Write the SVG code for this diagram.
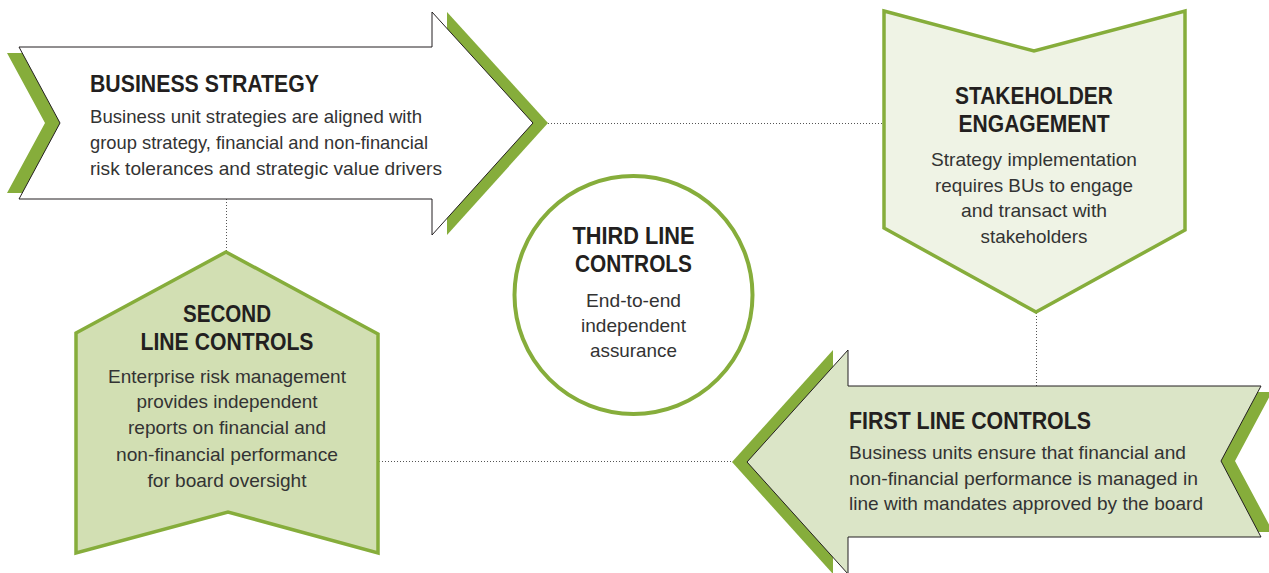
<svg xmlns="http://www.w3.org/2000/svg" width="1269" height="573" viewBox="0 0 1269 573">
<style>
.sh{fill:#86ad3b;stroke:none}
.arw{stroke:#231f20;stroke-width:1;stroke-linejoin:miter}
.box{stroke:#86ad3b;stroke-width:3.5;stroke-linejoin:miter}
.t{font-family:"Liberation Sans",Arial,sans-serif;font-weight:bold;font-size:23px;fill:#231f20}
.b{font-family:"Liberation Sans",Arial,sans-serif;font-size:19px;fill:#333333}
.m{text-anchor:middle}
.dot{stroke:#555;stroke-width:1;stroke-dasharray:1 2;fill:none}
</style>
<rect width="1269" height="573" fill="#ffffff"/>
<g id="connectors">
<line class="dot" x1="548" y1="123.5" x2="884" y2="123.5"/>
<line class="dot" x1="226.5" y1="199" x2="226.5" y2="252"/>
<line class="dot" x1="1036.5" y1="313" x2="1036.5" y2="386"/>
<line class="dot" x1="379" y1="461.5" x2="732" y2="461.5"/>
</g>
<g id="business-strategy">
<polygon class="sh" points="447,12 548,123 447,235"/>
<polygon class="sh" points="7,53 30,53 70,123 30,193 7,193 45,123"/>
<polygon class="arw" fill="#ffffff" points="19,47 432,47 432,12 533,123 432,235 432,199 19,199 60,123"/>
<text class="t" x="90" y="92" textLength="229" lengthAdjust="spacingAndGlyphs">BUSINESS STRATEGY</text>
<text class="b" x="90" y="123" textLength="332" lengthAdjust="spacingAndGlyphs">Business unit strategies are aligned with</text>
<text class="b" x="90" y="149" textLength="338" lengthAdjust="spacingAndGlyphs">group strategy, financial and non-financial</text>
<text class="b" x="90" y="175" textLength="352" lengthAdjust="spacingAndGlyphs">risk tolerances and strategic value drivers</text>
</g>
<g id="stakeholder-engagement">
<polygon class="box" fill="#eff3e5" points="884,11 1034,51 1185,11 1185,230 1036,312 884,228"/>
<text class="t m" x="1034" y="104" textLength="158" lengthAdjust="spacingAndGlyphs">STAKEHOLDER</text>
<text class="t m" x="1034" y="132" textLength="151" lengthAdjust="spacingAndGlyphs">ENGAGEMENT</text>
<text class="b m" x="1034" y="166" textLength="206" lengthAdjust="spacingAndGlyphs">Strategy implementation</text>
<text class="b m" x="1034" y="192" textLength="198" lengthAdjust="spacingAndGlyphs">requires BUs to engage</text>
<text class="b m" x="1034" y="217" textLength="146" lengthAdjust="spacingAndGlyphs">and transact with</text>
<text class="b m" x="1034" y="243" textLength="107" lengthAdjust="spacingAndGlyphs">stakeholders</text>
</g>
<g id="second-line-controls">
<polygon class="box" fill="#d2dfb3" points="226,252 378,334 378,553 228,512 76,553 76,333"/>
<text class="t m" x="227" y="322" textLength="88" lengthAdjust="spacingAndGlyphs">SECOND</text>
<text class="t m" x="227" y="350" textLength="173" lengthAdjust="spacingAndGlyphs">LINE CONTROLS</text>
<text class="b m" x="227" y="383" textLength="238" lengthAdjust="spacingAndGlyphs">Enterprise risk management</text>
<text class="b m" x="227" y="408" textLength="181" lengthAdjust="spacingAndGlyphs">provides independent</text>
<text class="b m" x="227" y="434" textLength="198" lengthAdjust="spacingAndGlyphs">reports on financial and</text>
<text class="b m" x="227" y="461" textLength="222" lengthAdjust="spacingAndGlyphs">non-financial performance</text>
<text class="b m" x="227" y="487" textLength="159" lengthAdjust="spacingAndGlyphs">for board oversight</text>
</g>
<g id="third-line-controls">
<circle cx="633.5" cy="295" r="119" fill="#ffffff" stroke="#86ad3b" stroke-width="4"/>
<text class="t m" x="633.5" y="244" textLength="122" lengthAdjust="spacingAndGlyphs">THIRD LINE</text>
<text class="t m" x="633.5" y="272" textLength="117" lengthAdjust="spacingAndGlyphs">CONTROLS</text>
<text class="b m" x="633.5" y="307" textLength="95" lengthAdjust="spacingAndGlyphs">End-to-end</text>
<text class="b m" x="633.5" y="332" textLength="105" lengthAdjust="spacingAndGlyphs">independent</text>
<text class="b m" x="633.5" y="357" textLength="87" lengthAdjust="spacingAndGlyphs">assurance</text>
</g>
<g id="first-line-controls">
<polygon class="sh" points="833,350 732,462 833,574"/>
<polygon class="sh" points="1250,392 1272,392 1235,461 1273,532 1250,532 1210,461"/>
<polygon class="arw" fill="#dbe5c7" points="848,386 1261,386 1221,461 1261,537 848,537 848,574 747,462 848,350"/>
<text class="t" x="849" y="429" textLength="242" lengthAdjust="spacingAndGlyphs">FIRST LINE CONTROLS</text>
<text class="b" x="849" y="459" textLength="337" lengthAdjust="spacingAndGlyphs">Business units ensure that financial and</text>
<text class="b" x="849" y="485" textLength="349" lengthAdjust="spacingAndGlyphs">non-financial performance is managed in</text>
<text class="b" x="849" y="510" textLength="354" lengthAdjust="spacingAndGlyphs">line with mandates approved by the board</text>
</g>
</svg>
